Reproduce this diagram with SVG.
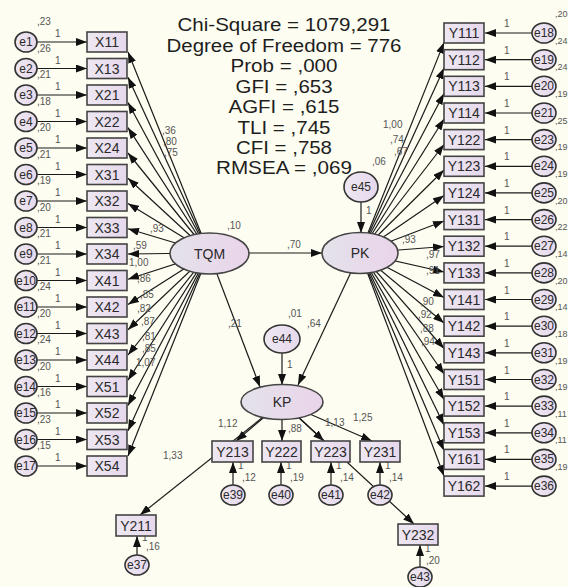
<svg xmlns="http://www.w3.org/2000/svg" width="568" height="587" viewBox="0 0 568 587">
<defs>
<marker id="ah" viewBox="0 0 11 8" refX="11" refY="4" markerWidth="11" markerHeight="8" markerUnits="userSpaceOnUse" orient="auto"><path d="M0,0 L11,4 L0,8 z" fill="#111"/></marker>
<linearGradient id="lg" x1="0" y1="0" x2="1" y2="0"><stop offset="0" stop-color="#e4e2ea"/><stop offset="1" stop-color="#ead4ea"/></linearGradient>
<linearGradient id="bg" x1="0" y1="0" x2="1" y2="0"><stop offset="0" stop-color="#eee8f2"/><stop offset="1" stop-color="#e6d8ec"/></linearGradient>
</defs>
<style>
text{font-family:"Liberation Sans",Arial,sans-serif}
.c path{fill:none;stroke:#1a1a1a;stroke-width:1.2;marker-end:url(#ah)}
.ob{fill:url(#bg);stroke:#444;stroke-width:1.6}
.lv{fill:url(#lg);stroke:#444;stroke-width:1.6}
.er{fill:url(#bg);stroke:#333;stroke-width:1.6}
.t{font-size:14px;fill:#2a2a2a;text-anchor:middle}
.te{font-size:12px;fill:#2a2a2a;text-anchor:middle}
.tl{font-size:14px;fill:#2a2a2a;text-anchor:middle}
.n{font-size:10px;fill:#555}
.nr{font-size:9px}
.h{font-size:17.5px;fill:#1e1e1e;text-anchor:middle}
</style>
<rect width="568" height="587" fill="#fdfdf1"/>
<g id="fit">
<text class="h" x="284" y="31" textLength="213" lengthAdjust="spacingAndGlyphs">Chi-Square = 1079,291</text>
<text class="h" x="284" y="51.5" textLength="235" lengthAdjust="spacingAndGlyphs">Degree of Freedom = 776</text>
<text class="h" x="284" y="72" textLength="107" lengthAdjust="spacingAndGlyphs">Prob = ,000</text>
<text class="h" x="284" y="92.5" textLength="97" lengthAdjust="spacingAndGlyphs">GFI = ,653</text>
<text class="h" x="284" y="113" textLength="111" lengthAdjust="spacingAndGlyphs">AGFI = ,615</text>
<text class="h" x="284" y="133.5" textLength="93" lengthAdjust="spacingAndGlyphs">TLI = ,745</text>
<text class="h" x="284" y="154" textLength="96" lengthAdjust="spacingAndGlyphs">CFI = ,758</text>
<text class="h" x="284" y="174" textLength="136" lengthAdjust="spacingAndGlyphs">RMSEA = ,069</text>
</g>
<g id="connectors" class="c">
<path d="M37 42H87"/><path d="M37 68.5H87"/><path d="M37 95H87"/><path d="M37 121.5H87"/><path d="M37 148H87"/><path d="M37 174.5H87"/><path d="M37 201H87"/><path d="M37 227.5H87"/><path d="M37 254H87"/><path d="M37 280.5H87"/><path d="M37 307H87"/><path d="M37 333.5H87"/><path d="M37 360H87"/><path d="M37 386.5H87"/><path d="M37 413H87"/><path d="M37 439.5H87"/><path d="M37 466H87"/>
<path d="M209 253L128 52"/><path d="M209 253L128 77.2"/><path d="M209 253L128 102.5"/><path d="M209 253L128 127.7"/><path d="M209 253L128 153"/><path d="M209 253L128 178.2"/><path d="M209 253L128 203.5"/><path d="M209 253L128 228.7"/><path d="M209 253L128 254"/><path d="M209 253L128 279.2"/><path d="M209 253L128 304.5"/><path d="M209 253L128 329.7"/><path d="M209 253L128 355"/><path d="M209 253L128 380.2"/><path d="M209 253L128 405.5"/><path d="M209 253L128 430.7"/><path d="M209 253L128 456"/>
<path d="M533 33H485"/><path d="M533 59.7H485"/><path d="M533 86.3H485"/><path d="M533 113H485"/><path d="M533 139.6H485"/><path d="M533 166.3H485"/><path d="M533 192.9H485"/><path d="M533 219.6H485"/><path d="M533 246.2H485"/><path d="M533 272.9H485"/><path d="M533 299.5H485"/><path d="M533 326.2H485"/><path d="M533 352.8H485"/><path d="M533 379.5H485"/><path d="M533 406.1H485"/><path d="M533 432.8H485"/><path d="M533 459.4H485"/><path d="M533 486.1H485"/>
<path d="M360 253L444 42.4"/><path d="M360 253L444 68"/><path d="M360 253L444 93.5"/><path d="M360 253L444 119"/><path d="M360 253L444 144.5"/><path d="M360 253L444 170"/><path d="M360 253L444 195.5"/><path d="M360 253L444 221"/><path d="M360 253L444 246.5"/><path d="M360 253L444 272"/><path d="M360 253L444 297.5"/><path d="M360 253L444 323"/><path d="M360 253L444 348.5"/><path d="M360 253L444 374"/><path d="M360 253L444 399.5"/><path d="M360 253L444 425"/><path d="M360 253L444 450.5"/><path d="M360 253L444 476"/>
<path d="M249 253H322"/>
<path d="M361 202V233"/>
<path d="M209 253L260 387"/>
<path d="M360 253L298 385"/>
<path d="M282 353V385"/>
<path d="M282 402L236 441"/>
<path d="M282 402V441"/>
<path d="M282 402L324 441"/>
<path d="M282 402L372 441"/>
<path d="M282 402L140 515"/>
<path d="M282 402L414 524"/>
<path d="M233 485V462"/><path d="M281 485V462"/><path d="M331 485V462"/><path d="M380 485V462"/>
<path d="M137 555V536"/><path d="M420 567V545"/>
</g>
<g id="labels" class="n">
<text x="55" y="37">1</text><text x="55" y="63.5">1</text><text x="55" y="90">1</text><text x="55" y="116.5">1</text><text x="55" y="143">1</text><text x="55" y="169.5">1</text><text x="55" y="196">1</text><text x="55" y="222.5">1</text><text x="55" y="249">1</text><text x="55" y="275.5">1</text><text x="55" y="302">1</text><text x="55" y="328.5">1</text><text x="55" y="355">1</text><text x="55" y="381.5">1</text><text x="55" y="408">1</text><text x="55" y="434.5">1</text><text x="55" y="461">1</text>
<text x="37" y="25">,23</text><text x="37" y="51.5">,26</text><text x="37" y="78">,21</text><text x="37" y="104.5">,18</text><text x="37" y="131">,20</text><text x="37" y="157.5">,21</text><text x="37" y="184">,19</text><text x="37" y="210.5">,20</text><text x="37" y="237">,21</text><text x="37" y="263.5">,21</text><text x="37" y="290">,24</text><text x="37" y="316.5">,20</text><text x="37" y="343">,24</text><text x="37" y="369.5">,20</text><text x="37" y="396">,16</text><text x="37" y="422.5">,23</text><text x="37" y="449">,15</text>
<text x="504" y="27">1</text><text x="504" y="53.7">1</text><text x="504" y="80.3">1</text><text x="504" y="107">1</text><text x="504" y="133.6">1</text><text x="504" y="160.3">1</text><text x="504" y="186.9">1</text><text x="504" y="213.6">1</text><text x="504" y="240.2">1</text><text x="504" y="266.9">1</text><text x="504" y="293.5">1</text><text x="504" y="320.2">1</text><text x="504" y="346.8">1</text><text x="504" y="373.5">1</text><text x="504" y="400.1">1</text><text x="504" y="426.8">1</text><text x="504" y="453.4">1</text><text x="504" y="480.1">1</text>
<g class="nr">
<text x="555" y="17">,20</text><text x="555" y="43.7">,24</text><text x="555" y="70.3">,24</text><text x="555" y="97">,19</text><text x="555" y="123.6">,25</text><text x="555" y="150.3">,19</text><text x="555" y="176.9">,19</text><text x="555" y="203.6">,20</text><text x="555" y="230.2">,22</text><text x="555" y="256.9">,14</text><text x="555" y="283.5">,20</text><text x="555" y="310.2">,14</text><text x="555" y="336.8">,18</text><text x="555" y="363.5">,19</text><text x="555" y="390.1">,19</text><text x="555" y="416.8">,11</text><text x="555" y="443.4">,11</text><text x="555" y="470.1">,19</text>
</g>
<text x="162" y="134">,36</text><text x="163" y="145">,80</text><text x="164" y="156">,75</text><text x="150" y="232">,93</text><text x="133" y="249">,59</text><text x="129" y="266">1,00</text><text x="137" y="282">,86</text><text x="140" y="298">,85</text><text x="137" y="312">,82</text><text x="141" y="325">,87</text><text x="142" y="340">,81</text><text x="142" y="352">,85</text><text x="136" y="366">1,07</text>
<text x="383" y="128">1,00</text><text x="390" y="143">,74</text><text x="394" y="155">,67</text><text x="402" y="243">,93</text><text x="426" y="258">,97</text><text x="426" y="274">,91</text><text x="420" y="305">,90</text><text x="418" y="318">,92</text><text x="420" y="332">,88</text><text x="421" y="345">,94</text>
<text x="227" y="229">,10</text><text x="287" y="248">,70</text><text x="372" y="165">,06</text><text x="366" y="214">1</text>
<text x="228" y="327">,21</text><text x="288" y="317">,01</text><text x="307" y="327">,64</text><text x="287" y="368">1</text>
<text x="218" y="427">1,12</text><text x="288" y="432">,88</text><text x="325" y="426">1,13</text><text x="353" y="421">1,25</text><text x="163" y="459">1,33</text>
<text x="238" y="469">1</text><text x="242" y="481">,12</text><text x="286" y="469">1</text><text x="290" y="481">,19</text><text x="336" y="469">1</text><text x="340" y="481">,14</text><text x="385" y="469">1</text><text x="389" y="481">,14</text>
<text x="142" y="541">1</text><text x="146" y="550">,16</text><text x="425" y="552">1</text><text x="426" y="564">,20</text>
</g>
<g id="X11"><rect x="87" y="32" width="40" height="20" class="ob"/><text class="t" x="107" y="47">X11</text></g>
<g id="X13"><rect x="87" y="58.5" width="40" height="20" class="ob"/><text class="t" x="107" y="73.5">X13</text></g>
<g id="X21"><rect x="87" y="85" width="40" height="20" class="ob"/><text class="t" x="107" y="100">X21</text></g>
<g id="X22"><rect x="87" y="111.5" width="40" height="20" class="ob"/><text class="t" x="107" y="126.5">X22</text></g>
<g id="X24"><rect x="87" y="138" width="40" height="20" class="ob"/><text class="t" x="107" y="153">X24</text></g>
<g id="X31"><rect x="87" y="164.5" width="40" height="20" class="ob"/><text class="t" x="107" y="179.5">X31</text></g>
<g id="X32"><rect x="87" y="191" width="40" height="20" class="ob"/><text class="t" x="107" y="206">X32</text></g>
<g id="X33"><rect x="87" y="217.5" width="40" height="20" class="ob"/><text class="t" x="107" y="232.5">X33</text></g>
<g id="X34"><rect x="87" y="244" width="40" height="20" class="ob"/><text class="t" x="107" y="259">X34</text></g>
<g id="X41"><rect x="87" y="270.5" width="40" height="20" class="ob"/><text class="t" x="107" y="285.5">X41</text></g>
<g id="X42"><rect x="87" y="297" width="40" height="20" class="ob"/><text class="t" x="107" y="312">X42</text></g>
<g id="X43"><rect x="87" y="323.5" width="40" height="20" class="ob"/><text class="t" x="107" y="338.5">X43</text></g>
<g id="X44"><rect x="87" y="350" width="40" height="20" class="ob"/><text class="t" x="107" y="365">X44</text></g>
<g id="X51"><rect x="87" y="376.5" width="40" height="20" class="ob"/><text class="t" x="107" y="391.5">X51</text></g>
<g id="X52"><rect x="87" y="403" width="40" height="20" class="ob"/><text class="t" x="107" y="418">X52</text></g>
<g id="X53"><rect x="87" y="429.5" width="40" height="20" class="ob"/><text class="t" x="107" y="444.5">X53</text></g>
<g id="X54"><rect x="87" y="456" width="40" height="20" class="ob"/><text class="t" x="107" y="471">X54</text></g>
<g id="e1"><ellipse cx="26" cy="42" rx="11" ry="10" class="er"/><text class="te" x="26" y="46">e1</text></g>
<g id="e2"><ellipse cx="26" cy="68.5" rx="11" ry="10" class="er"/><text class="te" x="26" y="72.5">e2</text></g>
<g id="e3"><ellipse cx="26" cy="95" rx="11" ry="10" class="er"/><text class="te" x="26" y="99">e3</text></g>
<g id="e4"><ellipse cx="26" cy="121.5" rx="11" ry="10" class="er"/><text class="te" x="26" y="125.5">e4</text></g>
<g id="e5"><ellipse cx="26" cy="148" rx="11" ry="10" class="er"/><text class="te" x="26" y="152">e5</text></g>
<g id="e6"><ellipse cx="26" cy="174.5" rx="11" ry="10" class="er"/><text class="te" x="26" y="178.5">e6</text></g>
<g id="e7"><ellipse cx="26" cy="201" rx="11" ry="10" class="er"/><text class="te" x="26" y="205">e7</text></g>
<g id="e8"><ellipse cx="26" cy="227.5" rx="11" ry="10" class="er"/><text class="te" x="26" y="231.5">e8</text></g>
<g id="e9"><ellipse cx="26" cy="254" rx="11" ry="10" class="er"/><text class="te" x="26" y="258">e9</text></g>
<g id="e10"><ellipse cx="26" cy="280.5" rx="11" ry="10" class="er"/><text class="te" x="26" y="284.5">e10</text></g>
<g id="e11"><ellipse cx="26" cy="307" rx="11" ry="10" class="er"/><text class="te" x="26" y="311">e11</text></g>
<g id="e12"><ellipse cx="26" cy="333.5" rx="11" ry="10" class="er"/><text class="te" x="26" y="337.5">e12</text></g>
<g id="e13"><ellipse cx="26" cy="360" rx="11" ry="10" class="er"/><text class="te" x="26" y="364">e13</text></g>
<g id="e14"><ellipse cx="26" cy="386.5" rx="11" ry="10" class="er"/><text class="te" x="26" y="390.5">e14</text></g>
<g id="e15"><ellipse cx="26" cy="413" rx="11" ry="10" class="er"/><text class="te" x="26" y="417">e15</text></g>
<g id="e16"><ellipse cx="26" cy="439.5" rx="11" ry="10" class="er"/><text class="te" x="26" y="443.5">e16</text></g>
<g id="e17"><ellipse cx="26" cy="466" rx="11" ry="10" class="er"/><text class="te" x="26" y="470">e17</text></g>
<g id="Y111"><rect x="444" y="23" width="40" height="20" class="ob"/><text class="t" x="464" y="38">Y111</text></g>
<g id="Y112"><rect x="444" y="49.7" width="40" height="20" class="ob"/><text class="t" x="464" y="64.7">Y112</text></g>
<g id="Y113"><rect x="444" y="76.3" width="40" height="20" class="ob"/><text class="t" x="464" y="91.3">Y113</text></g>
<g id="Y114"><rect x="444" y="103" width="40" height="20" class="ob"/><text class="t" x="464" y="118">Y114</text></g>
<g id="Y122"><rect x="444" y="129.6" width="40" height="20" class="ob"/><text class="t" x="464" y="144.6">Y122</text></g>
<g id="Y123"><rect x="444" y="156.3" width="40" height="20" class="ob"/><text class="t" x="464" y="171.3">Y123</text></g>
<g id="Y124"><rect x="444" y="182.9" width="40" height="20" class="ob"/><text class="t" x="464" y="197.9">Y124</text></g>
<g id="Y131"><rect x="444" y="209.6" width="40" height="20" class="ob"/><text class="t" x="464" y="224.6">Y131</text></g>
<g id="Y132"><rect x="444" y="236.2" width="40" height="20" class="ob"/><text class="t" x="464" y="251.2">Y132</text></g>
<g id="Y133"><rect x="444" y="262.9" width="40" height="20" class="ob"/><text class="t" x="464" y="277.9">Y133</text></g>
<g id="Y141"><rect x="444" y="289.5" width="40" height="20" class="ob"/><text class="t" x="464" y="304.5">Y141</text></g>
<g id="Y142"><rect x="444" y="316.2" width="40" height="20" class="ob"/><text class="t" x="464" y="331.2">Y142</text></g>
<g id="Y143"><rect x="444" y="342.8" width="40" height="20" class="ob"/><text class="t" x="464" y="357.8">Y143</text></g>
<g id="Y151"><rect x="444" y="369.5" width="40" height="20" class="ob"/><text class="t" x="464" y="384.5">Y151</text></g>
<g id="Y152"><rect x="444" y="396.1" width="40" height="20" class="ob"/><text class="t" x="464" y="411.1">Y152</text></g>
<g id="Y153"><rect x="444" y="422.8" width="40" height="20" class="ob"/><text class="t" x="464" y="437.8">Y153</text></g>
<g id="Y161"><rect x="444" y="449.4" width="40" height="20" class="ob"/><text class="t" x="464" y="464.4">Y161</text></g>
<g id="Y162"><rect x="444" y="476.1" width="40" height="20" class="ob"/><text class="t" x="464" y="491.1">Y162</text></g>
<g id="e18"><ellipse cx="544" cy="33" rx="12" ry="10" class="er"/><text class="te" x="544" y="37">e18</text></g>
<g id="e19"><ellipse cx="544" cy="59.7" rx="12" ry="10" class="er"/><text class="te" x="544" y="63.7">e19</text></g>
<g id="e20"><ellipse cx="544" cy="86.3" rx="12" ry="10" class="er"/><text class="te" x="544" y="90.3">e20</text></g>
<g id="e21"><ellipse cx="544" cy="113" rx="12" ry="10" class="er"/><text class="te" x="544" y="117">e21</text></g>
<g id="e23"><ellipse cx="544" cy="139.6" rx="12" ry="10" class="er"/><text class="te" x="544" y="143.6">e23</text></g>
<g id="e24"><ellipse cx="544" cy="166.3" rx="12" ry="10" class="er"/><text class="te" x="544" y="170.3">e24</text></g>
<g id="e25"><ellipse cx="544" cy="192.9" rx="12" ry="10" class="er"/><text class="te" x="544" y="196.9">e25</text></g>
<g id="e26"><ellipse cx="544" cy="219.6" rx="12" ry="10" class="er"/><text class="te" x="544" y="223.6">e26</text></g>
<g id="e27"><ellipse cx="544" cy="246.2" rx="12" ry="10" class="er"/><text class="te" x="544" y="250.2">e27</text></g>
<g id="e28"><ellipse cx="544" cy="272.9" rx="12" ry="10" class="er"/><text class="te" x="544" y="276.9">e28</text></g>
<g id="e29"><ellipse cx="544" cy="299.5" rx="12" ry="10" class="er"/><text class="te" x="544" y="303.5">e29</text></g>
<g id="e30"><ellipse cx="544" cy="326.2" rx="12" ry="10" class="er"/><text class="te" x="544" y="330.2">e30</text></g>
<g id="e31"><ellipse cx="544" cy="352.8" rx="12" ry="10" class="er"/><text class="te" x="544" y="356.8">e31</text></g>
<g id="e32"><ellipse cx="544" cy="379.5" rx="12" ry="10" class="er"/><text class="te" x="544" y="383.5">e32</text></g>
<g id="e33"><ellipse cx="544" cy="406.1" rx="12" ry="10" class="er"/><text class="te" x="544" y="410.1">e33</text></g>
<g id="e34"><ellipse cx="544" cy="432.8" rx="12" ry="10" class="er"/><text class="te" x="544" y="436.8">e34</text></g>
<g id="e35"><ellipse cx="544" cy="459.4" rx="12" ry="10" class="er"/><text class="te" x="544" y="463.4">e35</text></g>
<g id="e36"><ellipse cx="544" cy="486.1" rx="12" ry="10" class="er"/><text class="te" x="544" y="490.1">e36</text></g>
<g id="TQM"><ellipse cx="209.5" cy="253.5" rx="39.5" ry="20.5" class="lv"/><text class="tl" x="209.5" y="258.5">TQM</text></g>
<g id="PK"><ellipse cx="360" cy="253" rx="38" ry="20.5" class="lv"/><text class="tl" x="360" y="258">PK</text></g>
<g id="e45"><ellipse cx="361" cy="187" rx="17" ry="15" class="er"/><text class="te" x="361" y="191">e45</text></g>
<g id="KP"><ellipse cx="282" cy="402" rx="41" ry="17.5" class="lv"/><text class="tl" x="282" y="407">KP</text></g>
<g id="e44"><ellipse cx="282" cy="339" rx="18" ry="14" class="er"/><text class="te" x="282" y="343">e44</text></g>
<g id="Y213"><rect x="212" y="441" width="41" height="21" class="ob"/><text class="t" x="232.5" y="456.5">Y213</text></g>
<g id="Y222"><rect x="262" y="441" width="39" height="21" class="ob"/><text class="t" x="281.5" y="456.5">Y222</text></g>
<g id="Y223"><rect x="311" y="441" width="39" height="21" class="ob"/><text class="t" x="330.5" y="456.5">Y223</text></g>
<g id="Y231"><rect x="360" y="441" width="40" height="21" class="ob"/><text class="t" x="380" y="456.5">Y231</text></g>
<g id="Y211"><rect x="116" y="515" width="40" height="21" class="ob"/><text class="t" x="136" y="530.5">Y211</text></g>
<g id="Y232"><rect x="398" y="524" width="40" height="21" class="ob"/><text class="t" x="418" y="539.5">Y232</text></g>
<g id="e39"><ellipse cx="233" cy="495" rx="12" ry="10" class="er"/><text class="te" x="233" y="499">e39</text></g>
<g id="e40"><ellipse cx="281" cy="495" rx="12" ry="10" class="er"/><text class="te" x="281" y="499">e40</text></g>
<g id="e41"><ellipse cx="331" cy="495" rx="12" ry="10" class="er"/><text class="te" x="331" y="499">e41</text></g>
<g id="e42"><ellipse cx="380" cy="495" rx="12" ry="10" class="er"/><text class="te" x="380" y="499">e42</text></g>
<g id="e37"><ellipse cx="137" cy="565" rx="12" ry="10" class="er"/><text class="te" x="137" y="569">e37</text></g>
<g id="e43"><ellipse cx="420" cy="577" rx="12" ry="10" class="er"/><text class="te" x="420" y="581">e43</text></g>
</svg>
